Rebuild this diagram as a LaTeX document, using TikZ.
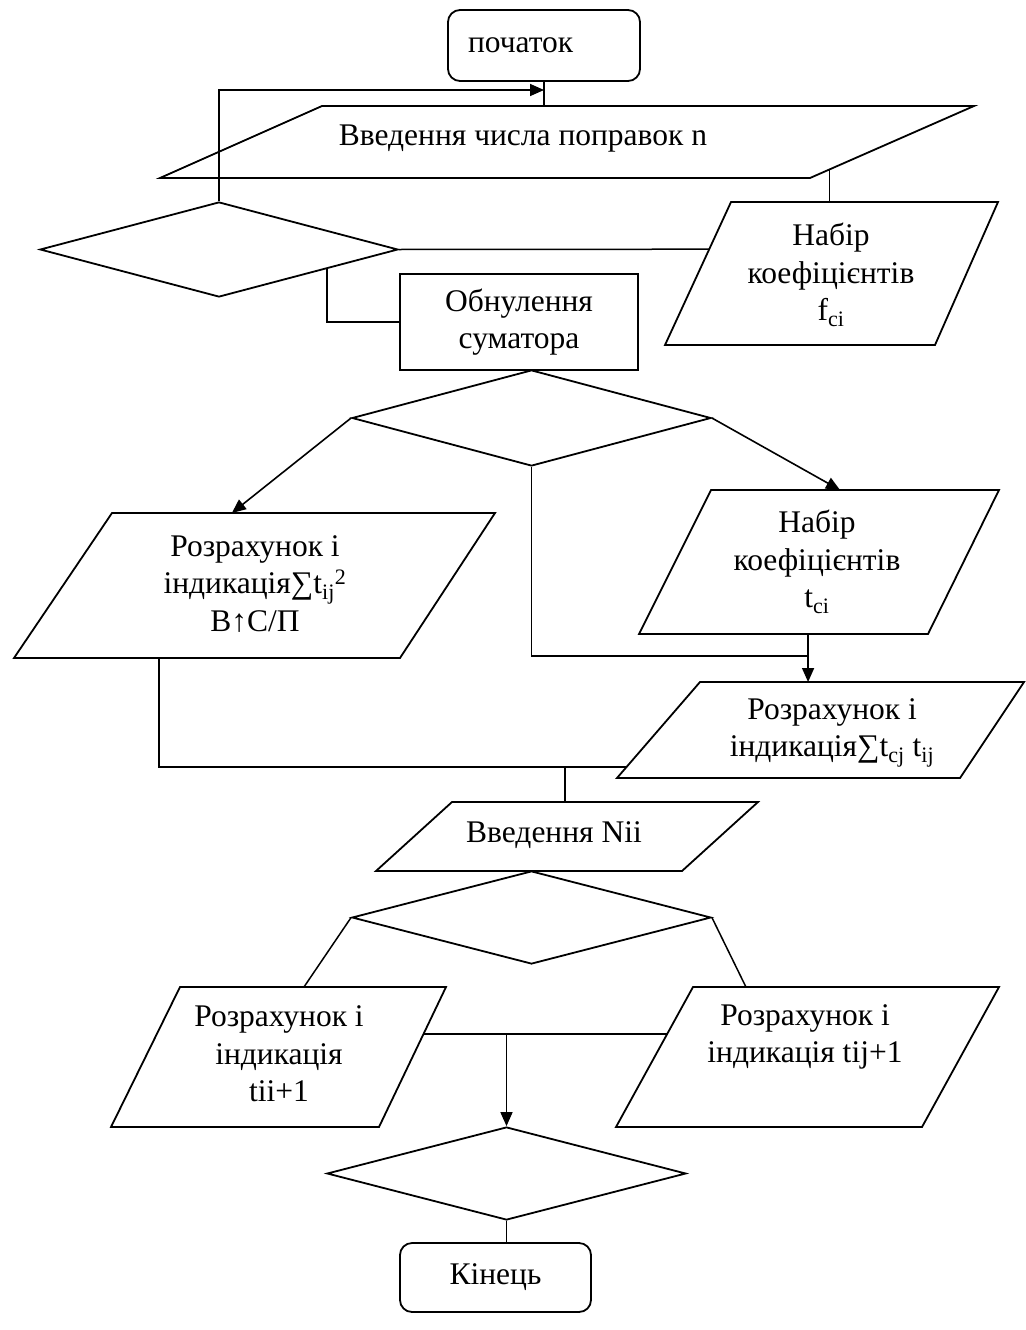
\documentclass[tikz,border=0pt]{standalone}
\usepackage{fontspec}
\setmainfont{Liberation Serif}
\usetikzlibrary{arrows.meta,shapes.geometric,calc}

\begin{document}
\begin{tikzpicture}[x=1pt,y=-1pt]

            \tikzset{
                flowline/.style={line width=1.5pt},
                flowarrow/.style={line width=1.6pt, -{Triangle[length=14pt,width=12pt]}},
                shapeline/.style={line width=1.8pt},
                labeltext/.style={font=\fontsize{31.5}{37.5}\selectfont, align=center},
                terminal/.style={draw, line width=1.8pt, rounded corners=12pt, labeltext},
                choice/.style={draw, diamond, line width=1.8pt, inner sep=0pt}
            }

            \newcommand{\DataBox}[9]{%
                \coordinate (#1-tl) at (#4,#2);
                \coordinate (#1-tr) at (#5,#2);
                \coordinate (#1-bl) at (#6,#3);
                \coordinate (#1-br) at (#7,#3);
                \draw[shapeline] (#1-tl) -- (#1-tr) -- (#1-br) -- (#1-bl) -- cycle;
                \node[labeltext] (#1) at #8 {#9};
            }

            \useasboundingbox (0,0) rectangle (1025,1330);

            \node[terminal, text width=152pt, inner xsep=20pt, align=left, minimum height=71pt] (start) at (544,45.5) {початок};
            \DataBox{in1}{106}{178}{322}{974}{160}{810}{(523,139)}{Введення числа поправок n}
            \node[choice, minimum width=358pt, minimum height=95pt] (d1) at (219,249.5) {};
            \DataBox{fc}{202}{345}{731}{998}{665}{935}{(831,275)}{Набір\\коефіцієнтів\\f\textsubscript{ci}}
            \node[draw, line width=1.8pt, minimum width=238pt, minimum height=96pt, labeltext] (zero) at (519,322) {Обнулення\\суматора};
            \node[choice, minimum width=359pt, minimum height=96pt] (d2) at (531.5,418) {};
            \DataBox{lp}{513}{658}{112}{495}{14}{400}{(255,584)}{Розрахунок і\\індикація∑t\textsubscript{ij}\textsuperscript{2}\\В↑С/П}
            \DataBox{tc}{490}{634}{711}{999}{639}{928}{(817,562)}{Набір\\коефіцієнтів\\t\textsubscript{ci}}
            \DataBox{p4}{682}{778}{700}{1024}{617}{960}{(832,733)}{Розрахунок і\\індикація∑t\textsubscript{cj} t\textsubscript{ij}}
            \DataBox{nii}{802}{871}{452}{758}{376}{682}{(554,835)}{Введення Nii}
            \node[choice, minimum width=359pt, minimum height=93pt] (d3) at (531.5,917.5) {};
            \DataBox{bl}{987}{1127}{180}{446}{111}{379}{(279,1054)}{Розрахунок і\\індикація\\tii+1}
            \DataBox{br}{987}{1127}{693}{999}{616}{922}{(805,1037)}{Розрахунок і\\індикація tij+1}
            \node[choice, minimum width=359pt, minimum height=93pt] (d4) at (506.5,1173.5) {};
            \node[terminal, minimum width=191pt, minimum height=69pt] (stop) at (495.5,1277.5) {Кінець};

            \coordinate (j1) at (start.south |- 0,90);
            \draw[flowline] (start.south) -- (start.south |- in1-tl);
            \draw[flowarrow] (d1.north) |- (j1);
            \draw[flowline] ($(in1-br)!0.12!(in1-tr)$) coordinate (a1) -- (a1 |- fc-tl);
            \draw[flowline] (d1.east) -- ($(fc-tl)!0.33!(fc-bl)$);
            \draw[flowline] ($(d1.east)!0.4!(d1.south)$) |- (zero.west);
            \draw[flowarrow] (d2.west) -- ($(lp-tl)!0.313!(lp-tr)$);
            \draw[flowarrow] (d2.east) -- ($(tc-tl)!0.448!(tc-tr)$);
            \draw[flowarrow] ($(tc-bl)!0.585!(tc-br)$) coordinate (a2) -- (a2 |- p4-tl);
            \draw[flowline] (d2.south) |- ($(a2)!0.46!(a2 |- p4-tl)$);
            \draw[flowline] ($(lp-bl)!0.376!(lp-br)$) |- ($(p4-tl)!0.885!(p4-bl)$) coordinate (a4);
            \draw[flowline] ($(nii-tl)!0.369!(nii-tr)$) coordinate (a3) -- (a3 |- a4);
            \draw[flowline] (d3.west) -- ($(bl-tl)!0.466!(bl-tr)$);
            \draw[flowline] (d3.east) -- ($(br-tl)!0.173!(br-tr)$);
            \draw[flowline] ($(bl-tr)!0.336!(bl-br)$) coordinate (a5) -- ($(br-tl)!0.336!(br-bl)$);
            \draw[flowarrow] (d4.north |- a5) -- (d4.north);
            \draw[flowline] (d4.south) -- (d4.south |- stop.north);

        \end{tikzpicture}
\end{document}
